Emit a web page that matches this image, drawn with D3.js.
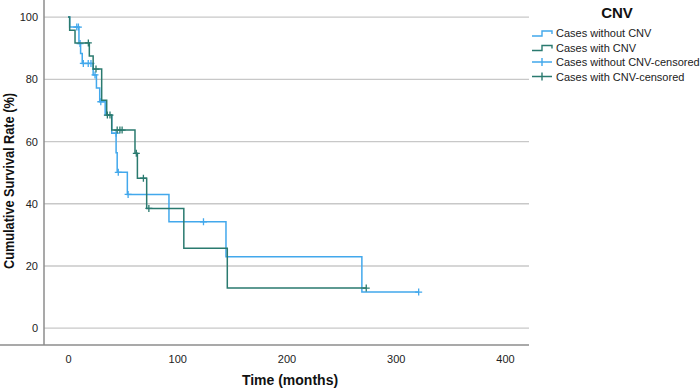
<!DOCTYPE html>
<html>
<head>
<meta charset="utf-8">
<script src="https://cdn.jsdelivr.net/npm/d3@7"></script>
<style>
  body { margin: 0; background: #fff; }
  text { font-family: "Liberation Sans", Arial, sans-serif; }
</style>
</head>
<body>
<div id="chart"></div>
<script>
// survival steps: time (months) and survival (%) after each drop
var noCnvTime = [0, 1.5, 10, 11.5, 13, 23, 26, 29, 34, 40, 44, 45, 54.3, 92.4, 144.6, 269, 321];
var noCnvSurv = [100, 96.8, 91.5, 88.3, 85.1, 81.4, 77.2, 72.8, 68.5, 62.7, 56.4, 50.1, 43.0, 34.2, 23.0, 11.6, 11.6];
var noCnvCensT = [8, 9.5, 11, 14, 18.5, 21, 24.7, 30, 44, 46, 55, 124, 321];
var noCnvCensS = [96.8, 96.8, 91.5, 85.1, 85.1, 85.1, 81.4, 72.8, 62.7, 50.1, 43.0, 34.2, 11.6];

var cnvTime = [0, 1.5, 6.4, 19.5, 23, 30.8, 35.4, 40, 61.3, 63.5, 72, 106, 145.8, 273];
var cnvSurv = [100, 95.8, 91.7, 87.5, 83.3, 73.3, 68.5, 63.7, 56.2, 48.2, 38.5, 25.7, 12.9, 12.9];
var cnvCensT = [18.6, 25.6, 36, 38.4, 45, 47.5, 49.5, 62.5, 69, 74, 273];
var cnvCensS = [91.7, 83.3, 68.5, 68.5, 63.7, 63.7, 63.7, 56.2, 48.2, 38.5, 12.9];

var xTicks = [0, 100, 200, 300, 400];
var yTicks = [0, 20, 40, 60, 80, 100];
var legendLabels = ["Cases without CNV", "Cases with CNV", "Cases without CNV-censored", "Cases with CNV-censored"];

var blue = "#42a8ec";
var teal = "#2a7a6f";

var svgWidth = 700, svgHeight = 389;
var svg = d3.select("#chart").append("svg")
    .attr("width", svgWidth)
    .attr("height", svgHeight);

var xScale = d3.scaleLinear().domain([-22, 422]).range([44, 529]);
var yScale = d3.scaleLinear().domain([-5.4, 105.5]).range([345, 0]);

// gridlines
svg.append("g").selectAll("line")
    .data(yTicks)
    .enter().append("line")
    .attr("x1", 44).attr("x2", 529)
    .attr("y1", d => yScale(d)).attr("y2", d => yScale(d))
    .attr("stroke", "#c8c8c8")
    .attr("stroke-width", 1.3);

// axes
var xAxisG = svg.append("g")
    .attr("transform", "translate(0,345)")
    .call(d3.axisBottom(xScale).tickValues(xTicks).tickSize(0).tickPadding(10));
var yAxisG = svg.append("g")
    .attr("transform", "translate(44,0)")
    .call(d3.axisLeft(yScale).tickValues(yTicks).tickSize(0).tickPadding(6));

[xAxisG, yAxisG].forEach(function(g) {
    g.select(".domain").attr("stroke", "#8c8c8c").attr("stroke-width", 1.5);
    g.selectAll("text").attr("font-size", 11).attr("fill", "#222");
});
yAxisG.select(".domain").attr("d", "M0,0V345");
xAxisG.select(".domain").attr("d", "M0,0H529");

// survival curves
var stepLine = d3.line()
    .x(d => xScale(d[0]))
    .y(d => yScale(d[1]))
    .curve(d3.curveStepAfter);

function drawCurve(times, surv, censT, censS, color) {
    var pts = times.map((t, i) => [t, surv[i]]);
    svg.append("path")
        .datum(pts)
        .attr("d", stepLine)
        .attr("fill", "none")
        .attr("stroke", color)
        .attr("stroke-width", 1.5);
    var cens = censT.map((t, i) => [t, censS[i]]);
    svg.append("g").selectAll("path")
        .data(cens)
        .enter().append("path")
        .attr("d", d => {
            var cx = xScale(d[0]), cy = yScale(d[1]);
            return `M${cx - 3.5},${cy}H${cx + 3.5}M${cx},${cy - 3.5}V${cy + 3.5}`;
        })
        .attr("stroke", color)
        .attr("stroke-width", 1.3);
}

drawCurve(noCnvTime, noCnvSurv, noCnvCensT, noCnvCensS, blue);
drawCurve(cnvTime, cnvSurv, cnvCensT, cnvCensS, teal);

// axis titles
svg.append("text")
    .attr("x", 290).attr("y", 385)
    .attr("text-anchor", "middle")
    .attr("font-size", 14).attr("font-weight", "bold")
    .attr("fill", "#111")
    .text("Time (months)");

svg.append("text")
    .attr("transform", "translate(14,181) rotate(-90)")
    .attr("text-anchor", "middle")
    .attr("font-size", 14).attr("font-weight", "bold")
    .attr("textLength", 176)
    .attr("lengthAdjust", "spacingAndGlyphs")
    .attr("fill", "#111")
    .text("Cumulative Survival Rate (%)");

// legend
var legend = svg.append("g");
legend.append("text")
    .attr("x", 617).attr("y", 18)
    .attr("text-anchor", "middle")
    .attr("font-size", 15).attr("font-weight", "bold")
    .attr("fill", "#111")
    .text("CNV");

var legendColors = [blue, teal, blue, teal];
legendLabels.forEach(function(label, i) {
    var ly = 33 + i * 14.5;
    var sym;
    if (i < 2) {
        sym = `M532,${ly + 3}H542V${ly - 2}H552V${ly + 1}`;
    } else {
        sym = `M532,${ly}H552M542,${ly - 4}V${ly + 4}`;
    }
    legend.append("path")
        .attr("d", sym)
        .attr("fill", "none")
        .attr("stroke", legendColors[i])
        .attr("stroke-width", 1.4);
    legend.append("text")
        .attr("x", 556).attr("y", ly + 4)
        .attr("font-size", 11)
        .attr("fill", "#222")
        .text(label);
});
</script>
</body>
</html>
